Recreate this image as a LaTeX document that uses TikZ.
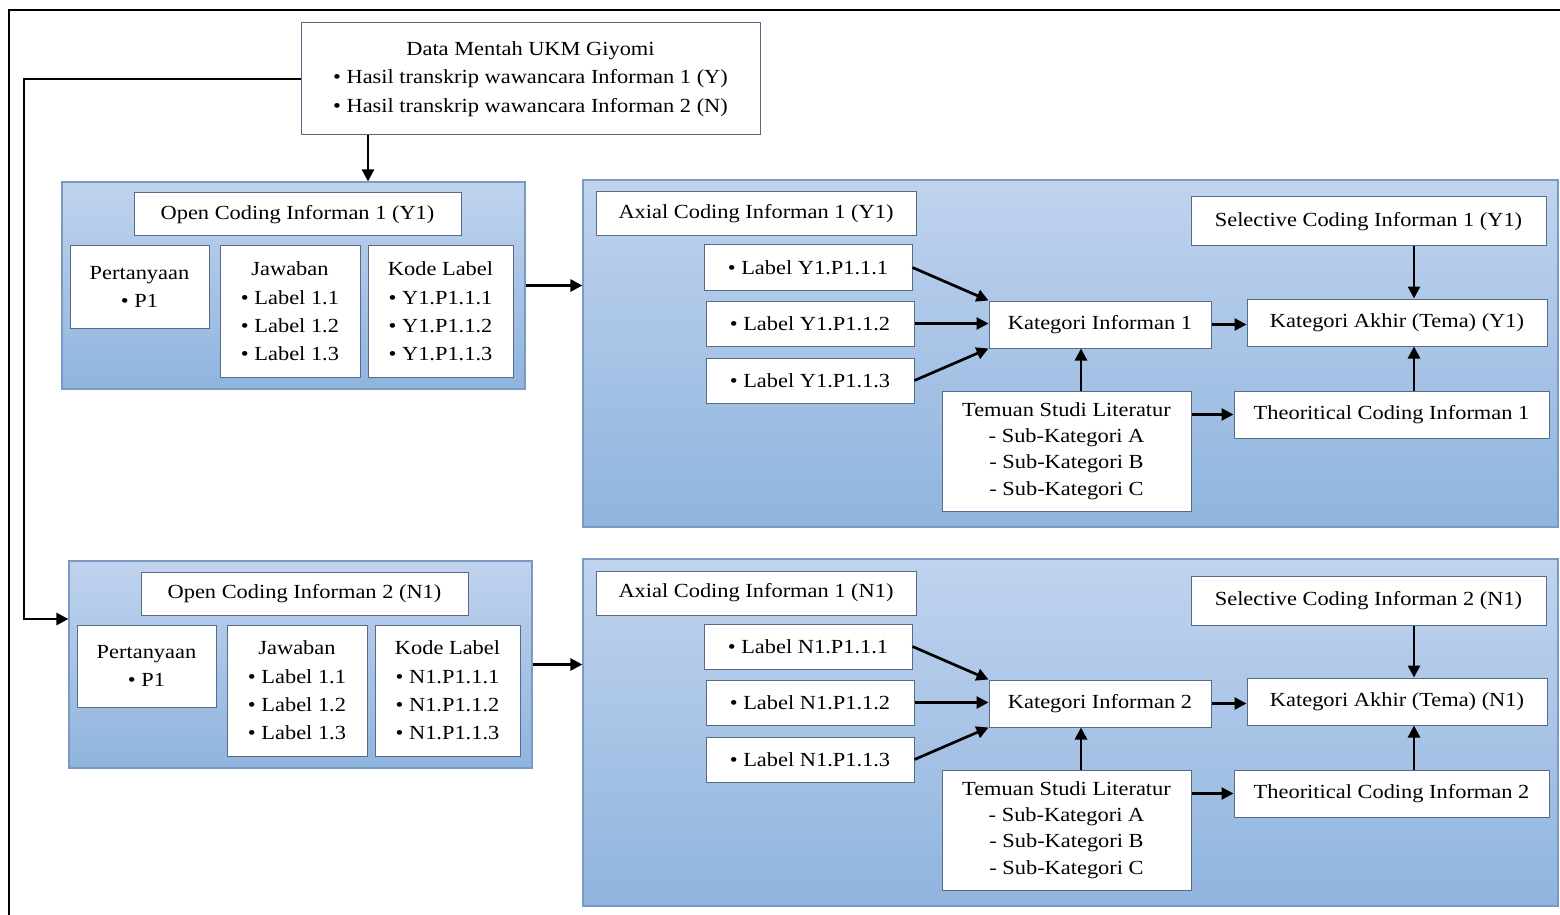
\documentclass[tikz,border=0pt]{standalone}
\usepackage{fontspec}
\setmainfont{Liberation Serif}[FakeStretch=1.12]
\usetikzlibrary{arrows.meta}
\definecolor{paneltop}{RGB}{192,211,238}
\definecolor{panelbot}{RGB}{143,180,222}
\definecolor{panelline}{RGB}{122,154,196}
\definecolor{boxline}{RGB}{88,108,138}
\tikzset{panel/.style={draw=panelline,line width=.6pt,top color=paneltop,bottom color=panelbot},
 wbox/.style={draw=boxline,line width=.5pt,fill=white,align=center,inner sep=0pt},
 dims/.style 2 args={minimum width=#1*.5pt,minimum height=#2*.5pt},
 conn/.style={-{Triangle[length=6pt,width=6pt]},line width=1.35pt},
 every node/.style={font=\fontsize{10}{14.2}\selectfont}}

\begin{document}
\begin{tikzpicture}[x=.5pt,y=-.5pt]
\useasboundingbox (0,0) rectangle (1560,915);
\draw[line width=1pt] (1560,10) -- (9,10) -- (9,915);
\node[wbox,dims={459}{112}] (data) at (530.5,79) {Data Mentah UKM Giyomi\\
 \textbullet\ Hasil transkrip wawancara Informan 1 (Y)\\
 \textbullet\ Hasil transkrip wawancara Informan 2 (N)};
\foreach \nr/\cd/\dx/\dy in {1/Y1/0/0,2/N1/7/379}{
 % open coding
 \begin{scope}[shift={(\dx,\dy)}]
 \node[panel,dims={463}{207}] (open\nr) at (293.5,285.5) {};
 \node[wbox,dims={327}{43}] (otitle\nr) at (297.5,214.5) {Open Coding Informan \nr\ (\cd)};
 \node[wbox,dims={139}{82}] (tanya\nr) at (139.5,287) {Pertanyaan\\ \textbullet\ P1};
 \node[wbox,dims={140}{131}] (jawab\nr) at (290,311.5) {Jawaban\\ \textbullet\ Label 1.1\\
  \textbullet\ Label 1.2\\ \textbullet\ Label 1.3};
 \node[wbox,dims={145}{131}] (kode\nr) at (440.5,311.5) {Kode Label\\ \textbullet\ \cd.P1.1.1\\
  \textbullet\ \cd.P1.1.2\\ \textbullet\ \cd.P1.1.3};
 \end{scope}
 % axial, theoritical, selective coding
 \begin{scope}[shift={(0,\dy)}]
 \node[panel,dims={975}{347}] (axial\nr) at (1070.5,353.5) {};
 \node[wbox,dims={320}{44}] (atitle\nr) at (756,214) {Axial Coding Informan 1 (\cd)};
 \node[wbox,dims={208}{45}] (labA\nr) at (808,267.5) {\textbullet\ Label \cd.P1.1.1};
 \node[wbox,dims={208}{45}] (labB\nr) at (810,323.5) {\textbullet\ Label \cd.P1.1.2};
 \node[wbox,dims={208}{45}] (labC\nr) at (810,380.5) {\textbullet\ Label \cd.P1.1.3};
 \node[wbox,dims={222}{47}] (kat\nr) at (1100,324.5) {Kategori Informan \nr};
 \node[wbox,dims={300}{47}] (akhir\nr) at (1397,322.5) {Kategori Akhir (Tema) (\cd)};
 \node[wbox,dims={355}{49}] (sel\nr) at (1368.5,221.5) {Selective Coding Informan \nr\ (\cd)};
 \node[wbox,dims={249}{120},font=\fontsize{10}{13.2}\selectfont] (temu\nr) at (1066.5,451)
  {Temuan Studi Literatur\\ - Sub-Kategori A\\ - Sub-Kategori B\\ - Sub-Kategori C};
 \node[wbox,dims={315}{47}] (theo\nr) at (1391.5,414.5) {Theoritical Coding Informan \nr};
 \draw[conn] (labA\nr.east) -- (kat\nr.north west);
 \draw[conn] (labB\nr.east) -- (labB\nr.east -| kat\nr.west);
 \draw[conn] (labC\nr.east) -- (kat\nr.south west);
 \draw[conn] (kat\nr.east) -- (kat\nr.east -| akhir\nr.west);
 \draw[conn] (sel\nr.south -| 1414,0) -- (akhir\nr.north -| 1414,0);
 \draw[conn] (theo\nr.north -| 1414,0) -- (akhir\nr.south -| 1414,0);
 \draw[conn] (temu\nr.north -| 1081,0) -- (kat\nr.south -| 1081,0);
 \draw[conn] (temu\nr.east |- theo\nr.west) -- (theo\nr.west);
 \end{scope}
 \draw[conn] (open\nr.east) -- (open\nr.east -| axial\nr.west);
}
\coordinate (elbow) at (24,619);
\draw[conn] (data.south -| 368,0) -- (open1.north -| 368,0);
\draw[conn] (data.west) -| (elbow) -- (elbow -| open2.west);
\end{tikzpicture}
\end{document}
